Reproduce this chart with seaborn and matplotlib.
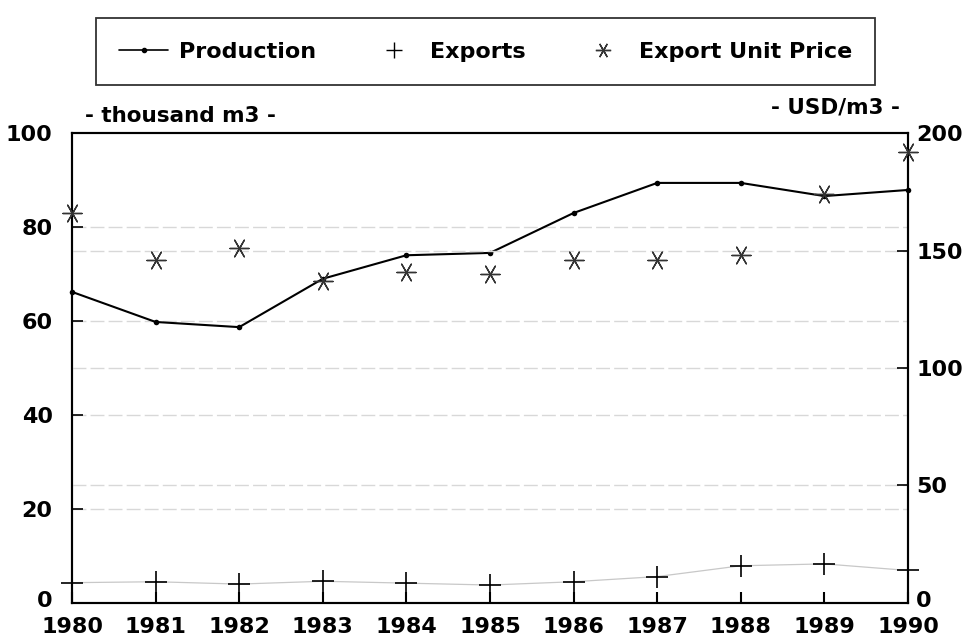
import numpy as np
import pandas as pd
import matplotlib
matplotlib.use('Agg')
import matplotlib.pyplot as plt
import matplotlib.transforms as mtransforms
import seaborn as sns
from matplotlib.lines import Line2D

# datos
years = [1980, 1981, 1982, 1983, 1984, 1985, 1986, 1987, 1988, 1989, 1990]
production = [66.2, 59.8, 58.7, 69.0, 74.0, 74.5, 83.0, 89.4, 89.4, 86.6, 87.9]
exports = [4.3, 4.5, 4.0, 4.6, 4.2, 3.8, 4.5, 5.6, 7.9, 8.3, 6.9]
unit_price = [166, 146, 151, 137, 141, 140, 146, 146, 148, 174, 192]

left_ticks = [0, 20, 40, 60, 80, 100]
right_ticks = [0, 50, 100, 150, 200]

df = pd.DataFrame({'year': years, 'production': production,
                   'exports': exports, 'price': unit_price})

sns.set_theme(style='white')
plt.rcParams['font.family'] = ['DejaVu Sans']
plt.rcParams['font.weight'] = 'bold'

star = (6, 2, 90)

fig = plt.figure(figsize=(9.68, 6.4), dpi=100)
ax = fig.add_axes([0.0744, 0.058, 0.8636, 0.734])
ax2 = ax.twinx()

# lineas de fondo tenues
grid_kw = dict(color='#d8d8d8', lw=1.0, ls=(0, (10, 3)), zorder=0)
for v in left_ticks[1:-1]:
    ax.axhline(v, **grid_kw)
for v in right_ticks[1:-1]:
    ax2.axhline(v, **grid_kw)

sns.lineplot(data=df, x='year', y='exports', ax=ax, color='#c8c8c8', lw=0.9,
             legend=False, zorder=2)
sns.lineplot(data=df, x='year', y='production', ax=ax, color='black', lw=1.5,
             marker='o', markersize=4, markeredgewidth=0, legend=False,
             zorder=3, clip_on=False)
sns.scatterplot(data=df, x='year', y='exports', ax=ax, marker='+', s=260,
                color='black', linewidth=1.2, legend=False, zorder=4,
                clip_on=False)
sns.scatterplot(data=df, x='year', y='price', ax=ax2, marker=star,
                s=190, color='#333333', linewidth=1.0, legend=False, zorder=4,
                clip_on=False)

ax.set_xlim(1980, 1990)
ax.set_ylim(0, 100)
ax2.set_ylim(0, 200)
ax.set_xticks(years)
ax.set_yticks(left_ticks)
ax2.set_yticks(right_ticks)
ax.set_xlabel('')
ax.set_ylabel('')
ax2.set_ylabel('')

fs = 16
ax.tick_params(axis='x', direction='in', length=8, width=1.5, pad=10,
               labelsize=fs, colors='black', bottom=True)
ax.tick_params(axis='y', direction='in', length=8, width=1.2, pad=14,
               labelsize=fs, colors='black', left=True)
ax2.tick_params(axis='y', direction='in', length=8, width=1.2, pad=6,
                labelsize=fs, colors='black', right=True)
for lab in ax.get_xticklabels() + ax.get_yticklabels() + ax2.get_yticklabels():
    lab.set_fontweight('bold')

# subir un poco los "0" para que no choquen con los años
up = mtransforms.ScaledTranslation(0, 3 / 72, fig.dpi_scale_trans)
for lab in (ax.get_yticklabels()[0], ax2.get_yticklabels()[0]):
    lab.set_transform(lab.get_transform() + up)

for a in (ax, ax2):
    for s in a.spines.values():
        s.set_color('black')
        s.set_linewidth(1.5)

fig.text(0.088, 0.818, '- thousand m3 -', fontsize=15.5, fontweight='bold',
         ha='left', va='center', color='black')
fig.text(0.93, 0.832, '- USD/m3 -', fontsize=15.5, fontweight='bold',
         ha='right', va='center', color='black')

handles = [
    Line2D([], [], color='black', lw=1.2, marker='o', markersize=3),
    Line2D([], [], color='black', lw=0, marker='+', markersize=12,
           markeredgewidth=1.0),
    Line2D([], [], color='#333333', lw=0, marker=star, markersize=11,
           markeredgewidth=1.0),
]
leg = fig.legend(handles, ['Production', 'Exports', 'Export Unit Price'],
                 loc='center', bbox_to_anchor=(0.5016, 0.9195), ncol=3,
                 frameon=True, fancybox=False, edgecolor='black',
                 prop={'size': 16, 'weight': 'bold'}, handlelength=2.2,
                 columnspacing=2.4, borderpad=1.05, handletextpad=0.5)
leg.get_frame().set_linewidth(1.3)
for t in leg.get_texts():
    t.set_color('black')

fig.savefig('out.png', dpi=100)
